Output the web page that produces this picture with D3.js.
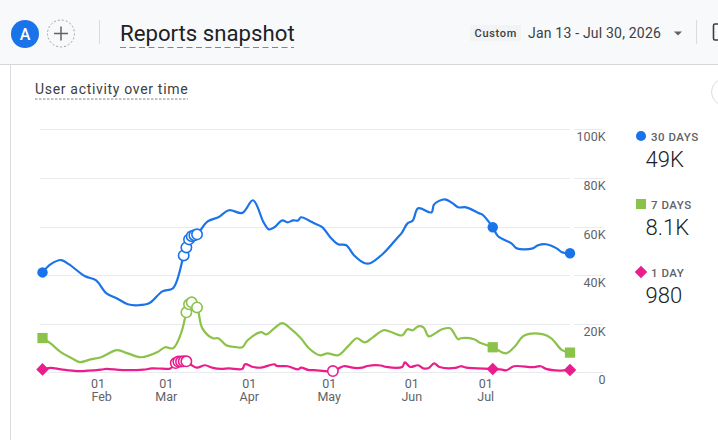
<!DOCTYPE html>
<html><head><meta charset="utf-8">
<script src="https://cdn.jsdelivr.net/npm/d3@7/dist/d3.min.js"></script>
<style>
html,body{margin:0;padding:0;background:#fff;overflow:hidden}
svg{display:block;font-family:Roboto,sans-serif}
</style></head><body>
<div id="chart"></div>
<script>
const startDate = new Date(2026,0,13);
const endDate = new Date(2026,6,30);
const yTicks = [0,20000,40000,60000,80000,100000];
const monthTicks = ["2026-02-01","2026-03-01","2026-04-01","2026-05-01","2026-06-01","2026-07-01"];

const days30 = [0,3,7,10,16,20,24,28,32,36,40,45,49,53,54,55,56,57,58,62,66,70,75,79,83,85,87,90,92,94,96,97,100,102,105,108,111,114,117,121,123,128,133,135,137,139,141,146,147,151,154,156,159,164,165,169,171,176,178,184,186,189,193,195,198];
const vals30 = [41.1,44.4,46.2,44.4,39.5,37.9,32.5,30.4,28.0,27.6,28.4,33.3,34.6,48.1,51.4,54.7,56,56.4,56.8,62.1,63.8,66.7,65.6,70.8,61.7,58.8,59.7,62.5,61.7,62.5,62.5,63.8,62.5,61.3,59.7,55.6,52.7,52.3,48.1,44.9,44.9,49.0,55.1,57.6,61.3,62.5,67.5,65.8,69.1,71.2,69.5,67.9,67.9,65.4,65.0,59.7,56,53.1,51,51,52.3,52.7,51,49.4,49];

const days7 = [0,3,7,11,14,18,22,28,32,37,43,46,49,52,54,55,56,58,60,64,66,69,73,75,77,82,84,87,90,93,97,100,104,107,111,115,118,121,124,128,131,135,137,139,141,143,145,148,150,153,156,157,162,164,169,174,177,181,188,191,195,198];
const vals7 = [14.1,11.9,8.2,5.8,4.2,5.3,6.2,9.1,7.8,6.2,8.2,10.3,9.9,16.0,24.7,28.0,28.8,26.7,18.1,14,14,11.1,10.3,10.3,13.2,16.5,15.6,18.1,20.2,18.1,14,9.9,7,7.8,7,11.1,14,12.3,14.4,17.3,16.5,15.2,17.7,17.3,18.9,18.5,14.8,16.5,17.7,18.1,13.6,14,13.6,12.3,10.3,7.8,10.3,15.2,15.6,14,9.1,8.1];

const days1 = [0,3,7,13,22,24,30,38,41,45,48,50,51,52,53,54,56,58,61,64,67,70,75,76,79,82,87,88,92,96,97,100,102,109,113,117,120,122,127,129,135,136,138,141,143,145,147,149,155,157,159,169,172,174,177,184,187,189,194,198];
const vals1 = [1.2,1.8,1.2,0.5,1.1,1.4,0.9,1.1,1.6,1.5,1.6,3.8,4.4,4.4,4.5,4.5,2.9,1.9,2.9,1.8,1.4,1.6,1.4,3.3,2.2,1.9,3.3,2.6,2.5,1.2,1.9,0.9,0.9,0.5,2.5,1.8,1.9,2.6,2.8,2.2,2.2,4.1,2.2,2.9,1.6,1.8,3.7,2.2,1.8,2.5,1.9,1.4,1.2,0.8,2.5,2.1,2.5,1.4,0.7,0.98];

const hollow30 = [53,54,55,56,57,58];
const hollow7 = [54,55,56,58];
const hollow1 = [50,51,52,53,54,109];
const solidDays = [0,169,198];

const legendNames = ["30 DAYS","7 DAYS","1 DAY"];
const legendValues = ["49K","8.1K","980"];
const colors = ["#1a73e8","#8bc34a","#e91e8c"];

const W=718,H=440;
const svg=d3.select("#chart").append("svg").attr("width",W).attr("height",H);

// page chrome
svg.append("rect").attr("width",W).attr("height",64).attr("fill","#f8f9fa");
svg.append("line").attr("x1",0).attr("x2",W).attr("y1",64.5).attr("y2",64.5).attr("stroke","#d5d7da").attr("stroke-width",1.2);
svg.append("line").attr("x1",10.5).attr("x2",10.5).attr("y1",65).attr("y2",H).attr("stroke","#dadce0");
svg.append("circle").attr("cx",25).attr("cy",34).attr("r",14).attr("fill","#1a73e8");
svg.append("text").attr("x",25).attr("y",39.5).attr("text-anchor","middle").attr("font-size",16).attr("font-weight",500).attr("fill","#fff").text("A");
svg.append("circle").attr("cx",61).attr("cy",33.5).attr("r",13.5).attr("fill","none").attr("stroke","#9aa0a6").attr("stroke-dasharray","2 2");
svg.append("path").attr("d","M54 33.5H68M61 26.5V40.5").attr("stroke","#5f6368").attr("stroke-width",1.5).attr("fill","none");
svg.append("line").attr("x1",99.5).attr("x2",99.5).attr("y1",20).attr("y2",44).attr("stroke","#dadce0");
svg.append("text").attr("x",120).attr("y",41).attr("font-size",22.2).attr("fill","#202124").text("Reports snapshot");
svg.append("line").attr("x1",120).attr("x2",294).attr("y1",47.5).attr("y2",47.5).attr("stroke","#80868b").attr("stroke-dasharray","6 3.5");
svg.append("rect").attr("x",470).attr("y",25).attr("width",51).attr("height",16).attr("fill","#f1f3f4");
svg.append("text").attr("x",474.5).attr("y",37).attr("font-size",11).attr("font-weight",500).attr("letter-spacing",0.7).attr("fill","#3c4043").text("Custom");
svg.append("text").attr("x",528).attr("y",38).attr("font-size",14).attr("letter-spacing",0.2).attr("fill","#3c4043").text("Jan 13 - Jul 30, 2026");
svg.append("path").attr("d","M674 31.5h8l-4 4z").attr("fill","#5f6368");
svg.append("line").attr("x1",696.5).attr("x2",696.5).attr("y1",20).attr("y2",44).attr("stroke","#dadce0");
svg.append("rect").attr("x",713.5).attr("y",24).attr("width",12).attr("height",16).attr("rx",1.5).attr("fill","none").attr("stroke","#3c4043").attr("stroke-width",1.6);
svg.append("circle").attr("cx",725).attr("cy",92).attr("r",13.5).attr("fill","#fff").attr("stroke","#dadce0");
svg.append("text").attr("x",35).attr("y",94).attr("font-size",14).attr("letter-spacing",0.68).attr("fill","#3c4043").text("User activity over time");
svg.append("line").attr("x1",35).attr("x2",188).attr("y1",99).attr("y2",99).attr("stroke","#80868b").attr("stroke-dasharray","2.5 1.5");

// scales
const x=d3.scaleTime().domain([startDate,endDate]).range([42.5,570]);
const y=d3.scaleLinear().domain([0,100000]).range([372.3,129.3]);
const dayDate=d=>d3.timeDay.offset(startDate,d);

// y axis + grid
const yAxis=d3.axisRight(y).tickValues(yTicks).tickSize(0).tickPadding(0)
  .tickFormat(d=>d===0?"0":(d/1000)+"K");
const yg=svg.append("g").attr("transform","translate(605.5,0)").call(yAxis);
yg.select(".domain").remove();
yg.selectAll("text").attr("text-anchor","end").attr("dy",null).attr("y",11.5).attr("x",0)
  .attr("font-family","Roboto,sans-serif").attr("font-size",12.5).attr("fill","#5f6368");
svg.append("g").selectAll("line").data(yTicks).join("line")
  .attr("x1",40).attr("x2",603).attr("y1",d=>Math.round(y(d))+.5).attr("y2",d=>Math.round(y(d))+.5)
  .attr("stroke","#e8eaed").attr("stroke-width",1.2);
svg.append("rect").attr("x",570).attr("y",120).attr("width",4).attr("height",240).attr("fill","#fff");

// x axis
const tickDates=monthTicks.map(d=>d3.timeParse("%Y-%m-%d")(d));
const xg=svg.append("g").attr("transform","translate(0,372)");
const labelShift=[5,-1.5,-1,-1,-1,-7];
xg.selectAll("g").data(tickDates).join("g").each(function(d,i){
  const g=d3.select(this).attr("transform",`translate(${x(d)+labelShift[i]},0)`);
  g.append("text").attr("y",16).attr("text-anchor","middle").attr("font-size",12.5).attr("fill","#5f6368").text(d3.timeFormat("%d")(d));
  g.append("text").attr("y",29).attr("x",i===0?3.5:0).attr("text-anchor","middle").attr("font-size",12.5).attr("fill","#5f6368").text(d3.timeFormat("%b")(d));
});

// lines
const line=d3.line().x(d=>x(dayDate(d[0]))).y(d=>y(d[1]*1000)).curve(d3.curveCatmullRom.alpha(0.5));
const series=[
  {days:days30,vals:vals30,hollow:hollow30,shape:d3.symbolCircle},
  {days:days7,vals:vals7,hollow:hollow7,shape:d3.symbolSquare},
  {days:days1,vals:vals1,hollow:hollow1,shape:d3.symbolDiamond2}
];
const markSize=[85,105,100];
const legendSize=[80,100,100];
[1,2,0].forEach(k=>{
  const s=series[k], c=colors[k];
  const pts=d3.zip(s.days,s.vals);
  svg.append("path").datum(pts).attr("d",line).attr("fill","none").attr("stroke",c).attr("stroke-width",2.2).attr("stroke-linejoin","round");
  const at=d=>pts.find(p=>p[0]===d);
  svg.append("g").selectAll("circle").data(s.hollow.map(at)).join("circle")
    .attr("cx",d=>x(dayDate(d[0]))).attr("cy",d=>y(d[1]*1000)).attr("r",5.2)
    .attr("fill","#fff").attr("stroke",c).attr("stroke-width",1.6);
  svg.append("g").selectAll("path").data(solidDays.map(at)).join("path")
    .attr("transform",d=>`translate(${x(dayDate(d[0]))},${y(d[1]*1000)})`)
    .attr("d",d3.symbol().type(s.shape).size(markSize[k])).attr("fill",c);
});

// legend
const legendY=[141,209,277];
legendNames.forEach((n,i)=>{
  const s=series[i];
  svg.append("path").attr("transform",`translate(641,${legendY[i]-5})`)
    .attr("d",d3.symbol().type(s.shape).size(legendSize[i])).attr("fill",colors[i]);
  svg.append("text").attr("x",651).attr("y",legendY[i]).attr("font-size",11.5).attr("font-weight",500).attr("letter-spacing",0.5).attr("fill","#5f6368").text(n);
  svg.append("text").attr("x",645.5).attr("y",legendY[i]+26).attr("font-size",22).attr("font-weight",300).attr("fill","#202124").text(legendValues[i]);
});
</script>
</body></html>
